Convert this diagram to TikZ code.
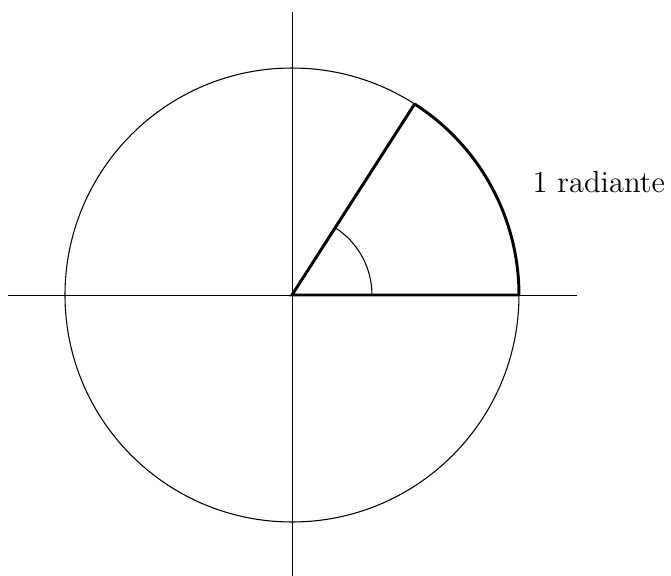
\documentclass[tikz,border=0pt]{standalone}
\usepackage{xcolor}
\usepackage{tikz}
\usetikzlibrary{positioning}

\begin{document}
\begin{tikzpicture}
      \tikzstyle{axis} = [line width=0.3pt]
      \tikzstyle{radius} = [line width=1.1pt]
      \useasboundingbox (-3.859,-3.713) rectangle (5.009,3.899);
      \coordinate (O) at (0,0);
      \coordinate (xl) at (-3.753,0);
      \coordinate (xr) at (3.766,0);
      \coordinate (yt) at (0,3.74);
      \coordinate (yb) at (0,-3.713);
      \coordinate (P) at (0:3);
      \coordinate (Q) at (57.2958:3);
      \draw[axis] (xl) -- (xr);
      \draw[axis] (yb) -- (yt);
      \draw[thin] (O) circle (3);
      \draw[radius] (P) -- (O) -- (Q);
      \draw[radius] (P) arc (0:57.2958:3);
      \draw[thin] (1.057,0) arc (0:57.2958:1.057);
      \node[anchor=base west, inner sep=0pt, font=\fontsize{11.5}{14}\selectfont] (lbl) at (3.172,1.36) {1 radiante};
    \end{tikzpicture}
\end{document}
